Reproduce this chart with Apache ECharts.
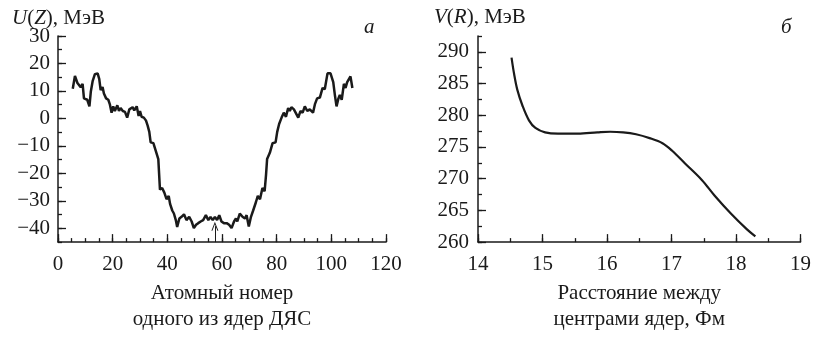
<!DOCTYPE html>
<html><head><meta charset="utf-8">
<script src="https://cdn.jsdelivr.net/npm/echarts@6/dist/echarts.min.js"></script>
<style>html,body{margin:0;padding:0;background:#fff}#c{width:814px;height:337px}</style>
</head><body><div id="c"></div>
<script>
// ---- data: panel а ----
const zValues = [5.4,6.2,7.1,7.8,8.3,9.0,9.5,10.2,10.7,11.5,12.0,12.7,13.5,14.5,15.1,15.6,16.3,16.8,17.6,18.4,19.0,19.6,20.2,20.8,21.7,22.3,22.9,23.7,24.5,25.3,26.1,26.7,27.3,27.9,28.8,29.5,30.0,30.6,31.4,32.2,32.8,33.4,33.9,34.9,35.8,36.7,37.3,38.1,38.9,39.7,40.5,41.0,41.8,42.4,43.1,43.6,44.4,45.2,46.1,47.0,48.0,48.9,49.7,50.5,51.3,52.2,53.1,54.1,55.0,55.8,56.6,57.4,58.2,59.0,59.8,60.7,61.7,62.6,63.5,64.4,65.1,65.6,66.5,67.5,68.4,69.0,69.8,70.6,71.4,72.4,73.1,73.9,74.8,75.6,76.1,76.5,77.5,78.5,79.6,80.2,80.9,81.8,82.6,83.4,84.2,84.8,85.4,86.3,87.0,87.9,88.7,89.5,90.3,91.2,92.1,93.3,94.0,94.8,95.8,96.8,97.6,98.6,99.7,100.7,101.3,101.9,102.6,103.1,103.8,104.6,105.2,105.8,106.4,107.0,107.7];
const uValues = [10.8,15.5,12.9,13.4,11.4,12.6,7.3,7.9,6.8,4.4,9.7,13.7,16.1,16.4,14.3,10.3,11.4,9.1,7.3,6.8,5.0,2.1,4.4,2.7,4.8,2.7,3.8,2.7,2.4,0.3,3.3,2.7,4.1,2.9,4.4,0.9,2.7,0.6,0.3,-0.8,-2.6,-4.9,-8.7,-9.0,-11.9,-14.8,-25.9,-25.3,-27.0,-29.4,-28.2,-31.1,-33.5,-34.6,-37.0,-39.5,-36.4,-35.8,-34.9,-37.0,-35.8,-37.5,-39.9,-38.7,-38.1,-37.5,-37.0,-35.2,-37.0,-35.8,-37.0,-35.8,-37.0,-35.2,-37.5,-38.1,-38.1,-38.7,-39.9,-37.5,-36.4,-37.5,-34.6,-35.8,-36.4,-35.2,-39.3,-35.8,-33.5,-30.5,-28.2,-29.4,-25.3,-26.5,-20.6,-14.8,-12.5,-9.0,-8.7,-4.9,-2.0,0.3,2.1,0.6,3.8,2.7,4.1,3.3,3.8,0.3,2.7,2.1,4.4,2.7,3.3,2.1,5.2,7.3,7.6,11.1,10.6,16.4,16.4,13.2,8.5,4.4,7.3,8.5,6.8,12.6,11.1,13.2,12.6,15.3,11.1];
const arrowZ = 57.4;
const arrowFromTo = [-45, -39.2];
const leftXTicks = ['0','20','40','60','80','100','120'];
const leftYTicks = ['-45','-40','-35','-30','-25','-20','-15','-10','-5','0','5','10','15','20','25','30'];

// ---- data: panel б ----
const rValues = [14.52,14.56,14.61,14.69,14.79,14.89,15.04,15.24,15.55,15.85,16.05,16.25,16.45,16.66,16.86,17.01,17.21,17.47,17.67,17.92,18.17,18.30];
const vValues = [289.1,286.5,284.0,281.5,279.2,278.0,277.3,277.1,277.1,277.3,277.4,277.3,277.0,276.4,275.6,274.4,272.4,269.8,267.3,264.5,262.0,260.9];
const rightXTicks = ['14','15','16','17','18','19'];
const rightYTicks = ['260','262.5','265','267.5','270','272.5','275','277.5','280','282.5','285','287.5','290','292.5'];

const FONT = '"Liberation Serif","DejaVu Serif",serif';
const BLACK = '#1a1a1a';
const lblStyle = {color: BLACK, fontFamily: FONT, fontSize: 21};
const minorTick = (len) => ({show: true, inside: true, length: len, lineStyle: {color: BLACK, width: 1.3}});
const axisLine = {show: true, onZero: false, lineStyle: {color: BLACK, width: 1.5}};
const minus = s => String(s).replace('-', '\u2212');

const chart = echarts.init(document.getElementById('c'), null, {renderer: 'canvas'});
chart.setOption({
  animation: false,
  backgroundColor: '#fff',
  grid: [
    {left: 58, right: 428, top: 36, bottom: 87},
    {left: 478, right: 6, top: 36, bottom: 87}
  ],
  xAxis: [
    {type: 'value', gridIndex: 0, min: 0, max: 120, interval: 5, axisLine, axisTick: minorTick(4), axisLabel: {show: false}, splitLine: {show: false}},
    {type: 'category', gridIndex: 0, data: leftXTicks, boundaryGap: false, position: 'bottom',
      axisLine: {show: false, onZero: false}, axisTick: {show: true, inside: true, length: 8, interval: 0, lineStyle: {color: BLACK, width: 1.3}},
      axisLabel: Object.assign({interval: 0, margin: 12}, lblStyle),
      name: 'Атомный номер\nодного из ядер ДЯС', nameLocation: 'middle', nameGap: 37,
      nameTextStyle: {color: BLACK, fontFamily: FONT, fontSize: 21, lineHeight: 26}},
    {type: 'value', gridIndex: 1, min: 14, max: 19, interval: 0.5, axisLine, axisTick: minorTick(4), axisLabel: {show: false}, splitLine: {show: false}},
    {type: 'category', gridIndex: 1, data: rightXTicks, boundaryGap: false, position: 'bottom',
      axisLine: {show: false, onZero: false}, axisTick: {show: true, inside: true, length: 8, interval: 0, lineStyle: {color: BLACK, width: 1.3}},
      axisLabel: Object.assign({interval: 0, margin: 12}, lblStyle),
      name: 'Расстояние между\nцентрами ядер, Фм', nameLocation: 'middle', nameGap: 37,
      nameTextStyle: {color: BLACK, fontFamily: FONT, fontSize: 21, lineHeight: 26}}
  ],
  yAxis: [
    {type: 'value', gridIndex: 0, min: -45, max: 30, interval: 5, axisLine, axisTick: minorTick(4), axisLabel: {show: false}, splitLine: {show: false}},
    {type: 'category', gridIndex: 0, data: leftYTicks, boundaryGap: false, position: 'left',
      axisLine: {show: false, onZero: false},
      axisTick: {show: true, inside: true, length: 8, interval: (i, v) => Number(v) % 10 === 0, lineStyle: {color: BLACK, width: 1.3}},
      axisLabel: Object.assign({interval: (i, v) => Number(v) % 10 === 0, margin: 8, formatter: minus}, lblStyle)},
    {type: 'value', gridIndex: 1, min: 260, max: 292.5, interval: 2.5, axisLine, axisTick: minorTick(4), axisLabel: {show: false}, splitLine: {show: false}},
    {type: 'category', gridIndex: 1, data: rightYTicks, boundaryGap: false, position: 'left',
      axisLine: {show: false, onZero: false},
      axisTick: {show: true, inside: true, length: 8, interval: (i, v) => Number(v) % 5 === 0 && Number(v) <= 290, lineStyle: {color: BLACK, width: 1.3}},
      axisLabel: Object.assign({interval: (i, v) => Number(v) % 5 === 0 && Number(v) <= 290, margin: 9}, lblStyle)}
  ],
  series: [
    {type: 'line', xAxisIndex: 0, yAxisIndex: 0, showSymbol: false, symbol: 'none',
      data: zValues.map((z, i) => [z, uValues[i]]),
      lineStyle: {color: BLACK, width: 2.5}, silent: true,
      markLine: {silent: true, symbol: ['none', 'path://M0,10 L5,0 L10,10 L8.6,10 L5,2.8 L1.4,10 Z'], symbolSize: [7, 9],
        lineStyle: {color: BLACK, width: 1, type: 'solid'}, label: {show: false},
        data: [[{coord: [arrowZ, arrowFromTo[0]]}, {coord: [arrowZ, arrowFromTo[1]]}]]}},
    {type: 'line', xAxisIndex: 2, yAxisIndex: 2, showSymbol: false, symbol: 'none', smooth: 0.35,
      data: rValues.map((r, i) => [r, vValues[i]]),
      lineStyle: {color: BLACK, width: 2.2}, silent: true}
  ],
  graphic: [
    {type: 'text', left: 12, top: 8, style: {text: '{i|U}({i|Z}), МэВ', font: '21px ' + FONT, fill: BLACK,
      rich: {i: {fontStyle: 'italic', fontFamily: FONT, fontSize: 21, fill: BLACK}}}},
    {type: 'text', left: 434, top: 7, style: {text: '{i|V}({i|R}), МэВ', font: '21px ' + FONT, fill: BLACK,
      rich: {i: {fontStyle: 'italic', fontFamily: FONT, fontSize: 21, fill: BLACK}}}},
    {type: 'text', left: 364, top: 17, style: {text: 'а', font: 'italic 21px ' + FONT, fill: BLACK}},
    {type: 'text', left: 781, top: 17, style: {text: 'б', font: 'italic 21px ' + FONT, fill: BLACK}}
  ]
});
</script></body></html>
